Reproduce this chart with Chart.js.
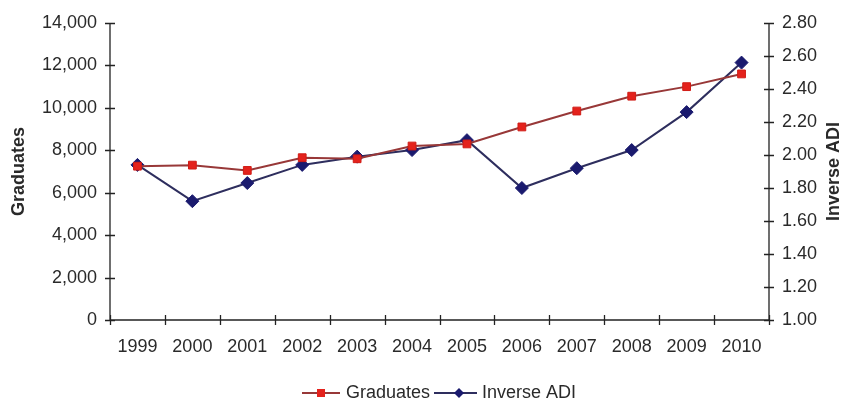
<!DOCTYPE html>
<html>
<head>
<meta charset="utf-8">
<script src="https://cdn.jsdelivr.net/npm/chart.js@4/dist/chart.umd.min.js"></script>
<style>
  html, body { margin: 0; padding: 0; background: #ffffff; }
  #wrap { width: 845px; height: 402px; position: relative; }
</style>
</head>
<body>
<div id="wrap"><canvas id="c" width="845" height="402"></canvas></div>
<script>
// Years on the category axis
const years = ['1999','2000','2001','2002','2003','2004','2005','2006','2007','2008','2009','2010'];
// Number of graduates per year (left axis)
const graduates = [7250, 7300, 7050, 7650, 7600, 8200, 8300, 9100, 9850, 10550, 11000, 11600];
// Inverse ADI per year (right axis)
const inverseADI = [1.94, 1.72, 1.83, 1.94, 1.99, 2.03, 2.09, 1.80, 1.92, 2.03, 2.26, 2.56];
// Axis titles
const leftTitle = 'Graduates';
const rightTitle = 'Inverse ADI';

const FONT = '"Liberation Sans", Arial, sans-serif';
const TEXT = '#2a2a2a';
const gradLine = '#983838';
const gradFill = '#e4221c';
const adiLine = '#2e2e5e';
const adiFill = '#1a1a6e';

// Axis lines, crossing tick marks, rotated axis titles and the legend
const decor = {
  id: 'decor',
  afterDraw(chart) {
    const ctx = chart.ctx;
    const a = chart.chartArea;
    const y = chart.scales.y, y1 = chart.scales.y1;
    ctx.save();
    ctx.strokeStyle = '#222';
    ctx.lineWidth = 1.3;
    ctx.beginPath();
    ctx.moveTo(a.left, a.top); ctx.lineTo(a.left, a.bottom);
    ctx.moveTo(a.right, a.top); ctx.lineTo(a.right, a.bottom);
    ctx.moveTo(a.left, a.bottom); ctx.lineTo(a.right, a.bottom);
    y.ticks.forEach((t, i) => {
      const py = Math.round(y.getPixelForTick(i)) + 0.5;
      ctx.moveTo(a.left - 5, py); ctx.lineTo(a.left + 5, py);
    });
    y1.ticks.forEach((t, i) => {
      const py = Math.round(y1.getPixelForTick(i)) + 0.5;
      ctx.moveTo(a.right - 5, py); ctx.lineTo(a.right + 5, py);
    });
    for (let i = 0; i <= years.length; i++) {
      const px = Math.round(a.left + (a.right - a.left) * i / years.length) + 0.5;
      ctx.moveTo(px, a.bottom - 5); ctx.lineTo(px, a.bottom + 5);
    }
    ctx.stroke();

    // axis titles, both reading bottom to top
    ctx.fillStyle = TEXT;
    ctx.font = 'bold 18px ' + FONT;
    ctx.textAlign = 'center';
    ctx.textBaseline = 'middle';
    const cy = (a.top + a.bottom) / 2;
    ctx.save(); ctx.translate(19, cy); ctx.rotate(-Math.PI / 2); ctx.fillText(leftTitle, 0, 0); ctx.restore();
    ctx.save(); ctx.translate(834, cy); ctx.rotate(-Math.PI / 2); ctx.fillText(rightTitle, 0, 0); ctx.restore();

    // legend
    const ly = 393;
    ctx.font = '18px ' + FONT;
    ctx.textAlign = 'left';
    ctx.lineWidth = 2;
    ctx.strokeStyle = gradLine;
    ctx.beginPath(); ctx.moveTo(302, ly); ctx.lineTo(340, ly); ctx.stroke();
    ctx.fillStyle = gradFill;
    ctx.fillRect(317, ly - 4, 8, 8);
    ctx.fillStyle = TEXT;
    ctx.fillText(chart.data.datasets[0].label, 346, ly);
    ctx.strokeStyle = adiLine;
    ctx.beginPath(); ctx.moveTo(434, ly); ctx.lineTo(477, ly); ctx.stroke();
    ctx.fillStyle = adiFill;
    ctx.beginPath(); ctx.moveTo(459, ly - 5); ctx.lineTo(464, ly); ctx.lineTo(459, ly + 5); ctx.lineTo(454, ly); ctx.closePath(); ctx.fill();
    ctx.fillStyle = TEXT;
    ctx.fillText(chart.data.datasets[1].label, 482, ly);
    ctx.restore();
  }
};

new Chart(document.getElementById('c'), {
  type: 'line',
  data: {
    labels: years,
    datasets: [
      {
        label: 'Graduates',
        data: graduates,
        yAxisID: 'y',
        borderColor: gradLine,
        borderWidth: 2,
        pointStyle: 'rect',
        pointRadius: 5.5,
        pointBackgroundColor: gradFill,
        pointBorderColor: '#d01c16',
        pointBorderWidth: 1,
        tension: 0
      },
      {
        label: 'Inverse ADI',
        data: inverseADI,
        yAxisID: 'y1',
        borderColor: adiLine,
        borderWidth: 2,
        pointStyle: 'rectRot',
        pointRadius: 6.5,
        pointBackgroundColor: adiFill,
        pointBorderColor: adiFill,
        pointBorderWidth: 1,
        tension: 0
      }
    ]
  },
  options: {
    responsive: false,
    animation: false,
    layout: { padding: { top: 23, left: 0, right: 0, bottom: 0 } },
    plugins: { legend: { display: false }, tooltip: { enabled: false } },
    scales: {
      x: {
        offset: true,
        grid: { display: false },
        border: { display: false },
        ticks: { color: TEXT, font: { family: FONT, size: 18 }, padding: 8, maxRotation: 0, autoSkip: false },
        afterFit(s) { s.height = 82; }
      },
      y: {
        position: 'left',
        min: 0, max: 14000,
        grid: { display: false },
        border: { display: false },
        ticks: {
          stepSize: 2000, color: TEXT, padding: 5,
          font: { family: FONT, size: 18 },
          callback: v => v.toLocaleString('en-US')
        },
        afterFit(s) { s.width = 110; }
      },
      y1: {
        position: 'right',
        min: 1.0, max: 2.8,
        grid: { display: false },
        border: { display: false },
        ticks: {
          stepSize: 0.2, color: TEXT, padding: 5,
          font: { family: FONT, size: 18 },
          callback: v => Number(v).toFixed(2)
        },
        afterFit(s) { s.width = 76; }
      }
    }
  },
  plugins: [decor]
});
</script>
</body>
</html>
